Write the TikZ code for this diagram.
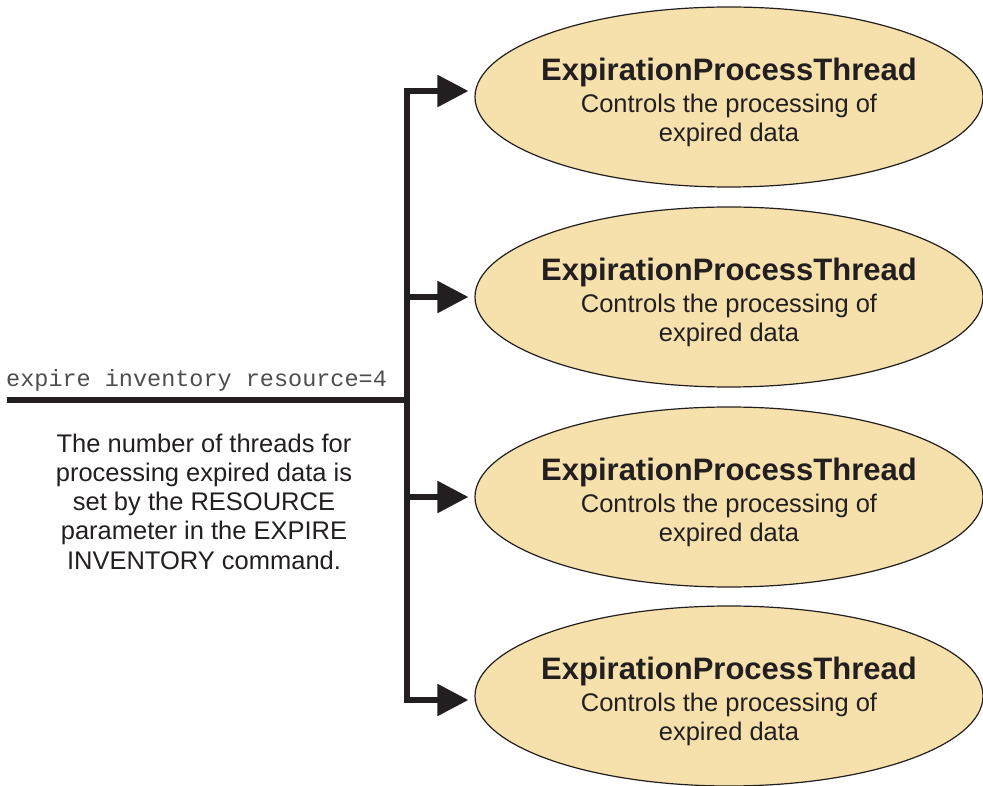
\documentclass[tikz,border=0pt]{standalone}
\usepackage{fontspec}
\setmainfont{Liberation Sans}
\setmonofont{Liberation Mono}
\usepackage{tikz}
\usetikzlibrary{shapes.geometric,arrows.meta}

\definecolor{inkdark}{HTML}{231F20}
\definecolor{threadfill}{HTML}{F6E1AC}

\begin{document}
\begin{tikzpicture}[x=1pt,y=1pt,
    thread/.style={ellipse,draw=inkdark,line width=1.2pt,fill=threadfill,minimum width=508pt,minimum height=180pt,inner sep=0pt},
    threadtext/.style={align=center,inner sep=0pt,text=inkdark,font=\fontsize{25.5}{29}\selectfont},
    flow/.style={draw=inkdark,line width=5.5pt,-{Triangle[length=31pt,width=31pt]},shorten >=6pt},
    bus/.style={draw=inkdark,line width=6pt}]
                \useasboundingbox (0,0) rectangle (983,-786);
                % the four threads
                \node [thread] (t1) at (729,-97) {};
                \node [thread] (t2) at (729,-297) {};
                \node [thread] (t3) at (729,-497) {};
                \node [thread] (t4) at (729,-696) {};
                \node [threadtext,yshift=-5.3pt] (l1) at (t1) {{\fontsize{31}{29}\selectfont\bfseries ExpirationProcessThread}\\[3pt]Controls the processing of\\expired data};
                \node [threadtext,yshift=-5.3pt] (l2) at (t2) {{\fontsize{31}{29}\selectfont\bfseries ExpirationProcessThread}\\[3pt]Controls the processing of\\expired data};
                \node [threadtext,yshift=-5.3pt] (l3) at (t3) {{\fontsize{31}{29}\selectfont\bfseries ExpirationProcessThread}\\[3pt]Controls the processing of\\expired data};
                \node [threadtext,yshift=-5.3pt] (l4) at (t4) {{\fontsize{31}{29}\selectfont\bfseries ExpirationProcessThread}\\[3pt]Controls the processing of\\expired data};
                % branching
                \coordinate (in) at (7,-400);
                \coordinate (jin) at (407,-400);
                \coordinate (j1) at (407,-91);
                \coordinate (j2) at (407,-297);
                \coordinate (j3) at (407,-497);
                \coordinate (j4) at (407,-700);
                \draw [bus] (in) -- (jin);
                \draw [flow] (jin) -- (j1) -- (j1 -| t1.west);
                \draw [flow] (jin) -- (j4) -- (j4 -| t4.west);
                \draw [flow] (j2) -- (j2 -| t2.west);
                \draw [flow] (j3) -- (j3 -| t3.west);
                \node [anchor=base west,inner sep=0pt,text=inkdark!80,font=\ttfamily\fontsize{23.5}{28}\selectfont] (cmd) at (6,-386.5) {expire inventory resource=4};
                \node [anchor=north,align=center,inner sep=0pt,text=inkdark,font=\fontsize{25.5}{29.3}\selectfont] (note) at (204,-433.4) {The number of threads for\\processing expired data is\\set by the RESOURCE\\parameter in the EXPIRE\\INVENTORY command.};
            \end{tikzpicture}
\end{document}
